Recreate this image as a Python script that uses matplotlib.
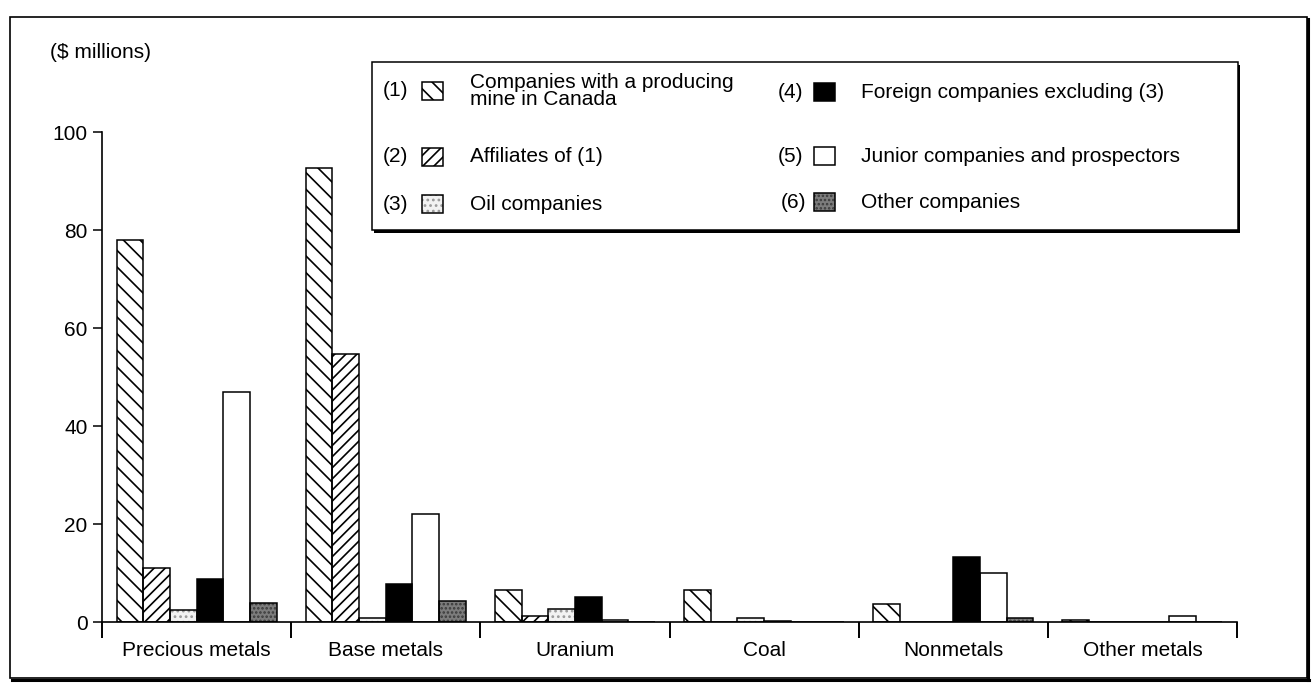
import matplotlib
matplotlib.use("Agg")
import matplotlib.pyplot as plt
from matplotlib.patches import Rectangle
import numpy as np

plt.rcParams['font.family'] = ['Liberation Sans', 'DejaVu Sans']
plt.rcParams['hatch.linewidth'] = 1.2

# data ($ millions)
CATEGORIES = ["Precious metals", "Base metals", "Uranium", "Coal", "Nonmetals", "Other metals"]
SERIES_TAGS = ["(1)", "(2)", "(3)", "(4)", "(5)", "(6)"]
SERIES_LABELS = [
    "Companies with a producing\nmine in Canada",
    "Affiliates of (1)",
    "Oil companies",
    "Foreign companies excluding (3)",
    "Junior companies and prospectors",
    "Other companies",
]
producing = [78, 92.7, 6.6, 6.6, 3.7, 0.4]
affiliates = [11, 54.7, 1.2, 0, 0, 0]
oil = [2.5, 0.8, 2.7, 0.9, 0, 0]
foreign = [8.8, 7.7, 5.2, 0.3, 13.2, 0]
junior = [47, 22, 0.5, 0, 10, 1.3]
other = [3.8, 4.3, 0, 0, 0.8, 0]
Y_TICKS = [0, 20, 40, 60, 80, 100]

SERIES = [producing, affiliates, oil, foreign, junior, other]

# fill colour, hatch, hatch colour for each series
STYLES = [
    ("white", "\\\\", "black"),
    ("white", "///", "black"),
    ("#f2f2f2", "...", "#9a9a9a"),
    ("black", None, "black"),
    ("white", None, "black"),
    ("#7c7c7c", "....", "#3a3a3a"),
]

W, H = 1315, 683
FS = 15


def draw_patch(target, xy, w, h, style, **kw):
    face, hatch, hcol = style
    target.add_patch(Rectangle(xy, w, h, facecolor=face, hatch=hatch,
                               edgecolor=hcol, linewidth=0, **kw))
    target.add_patch(Rectangle(xy, w, h, fill=False, edgecolor="black",
                               linewidth=1.1, **kw))


fig = plt.figure(figsize=(W / 100, H / 100), dpi=100)
ax = fig.add_axes([102 / W, 1 - 622 / H, (1237 - 102) / W, (622 - 132.3) / H])

x = np.arange(len(CATEGORIES)) + 0.5
width = 0.141
offsets = (np.arange(len(SERIES)) - 2.5) * width

for values, style, off in zip(SERIES, STYLES, offsets):
    face, hatch, hcol = style
    ax.bar(x + off, values, width, color=face, hatch=hatch, edgecolor=hcol,
           linewidth=0, zorder=2)
    ax.bar(x + off, values, width, fill=False, edgecolor="black",
           linewidth=1.1, zorder=3)

ax.set_xlim(0, len(CATEGORIES))
ax.set_ylim(0, 100)
ax.set_yticks(Y_TICKS)
ax.tick_params(axis="y", direction="out", length=6.5, width=1.1, pad=4, labelsize=FS)

# group boundaries get the ticks, names sit between them
ax.set_xticks(np.arange(len(CATEGORIES) + 1))
ax.set_xticklabels([])
ax.tick_params(axis="x", which="major", direction="out", length=11.5, width=1.4)
ax.set_xticks(x, minor=True)
ax.set_xticklabels(CATEGORIES, minor=True)
ax.tick_params(axis="x", which="minor", length=0, pad=14, labelsize=FS)

for side in ("top", "right"):
    ax.spines[side].set_visible(False)
for side in ("left", "bottom"):
    ax.spines[side].set_linewidth(1.2)

# overlay in pixel coordinates for frame, unit note and legend
ov = fig.add_axes([0, 0, 1, 1], facecolor="none")
ov.set_xlim(0, W)
ov.set_ylim(H, 0)
ov.axis("off")

ov.add_patch(Rectangle((10, 17), 1297, 661, fill=False, edgecolor="black", linewidth=1.2))
ov.plot([1308.5, 1308.5], [19, 680], color="black", linewidth=2.2)
ov.plot([12, 1309], [679.5, 679.5], color="black", linewidth=2.2)

ov.text(50, 52, r"(\$ millions)", fontsize=FS, va="center", ha="left")

# legend box with a drop shadow
ov.add_patch(Rectangle((374.5, 64.5), 866, 168, facecolor="black", edgecolor="none", zorder=4))
ov.add_patch(Rectangle((372, 62), 866, 168, facecolor="white", edgecolor="black",
                       linewidth=1.1, zorder=5))

legend_pos = [
    (383, 422, 470, 91),
    (383, 422, 470, 157),
    (383, 422, 470, 204),
    (778, 814, 861, 92),
    (778, 814, 861, 156),
    (781, 814, 861, 202),
]
for (tx, sx, lx, yc), tag, label, style in zip(legend_pos, SERIES_TAGS, SERIES_LABELS, STYLES):
    ov.text(tx, yc, tag, fontsize=FS, va="center", ha="left", zorder=6)
    draw_patch(ov, (sx, yc - 9), 21, 18, style, zorder=6)
    ov.text(lx, yc, label, fontsize=FS, va="center", ha="left",
            linespacing=0.9, zorder=6)

fig.savefig("out.png", dpi=100)
